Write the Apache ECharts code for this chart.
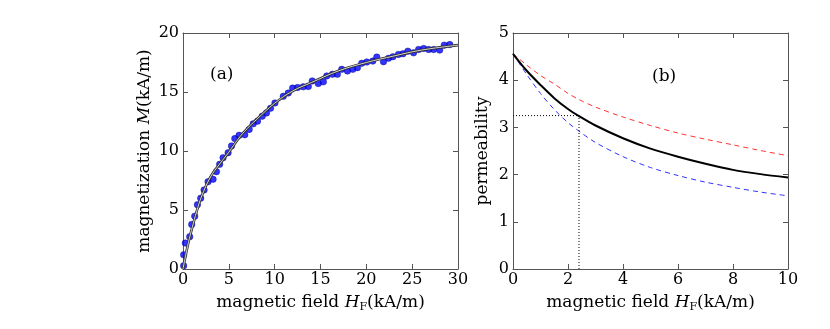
<!DOCTYPE html>
<html>
<head>
<meta charset="utf-8">
<script src="https://cdn.jsdelivr.net/npm/echarts@6/dist/echarts.min.js"></script>
<style>
  html, body { margin: 0; padding: 0; background: #fff; }
  #chart { width: 830px; height: 329px; }
</style>
</head>
<body>
<div id="chart"></div>
<script>
// panel (a): measured magnetization
var fieldA = [0.07, 0.07, 0.25, 0.73, 0.95, 1.28, 1.57, 1.93, 2.3, 2.73, 3.28, 3.65, 4.0, 4.37, 4.92,
  5.29, 5.65, 6.12, 6.74, 7.22, 7.66, 8.13, 8.64, 9.11, 9.55, 10.03, 10.94, 11.48, 11.96, 12.5,
  13.12, 13.67, 14.1, 14.76, 15.31, 15.68, 16.3, 16.84, 17.32, 17.94, 18.52, 19.03, 19.5, 20.05,
  20.7, 21.14, 21.87, 22.42, 22.9, 23.5, 24.0, 24.53, 25.15, 25.7, 26.25, 26.8, 27.34, 28.0, 28.5, 29.1];
var magA = [0.28, 1.2, 2.2, 2.74, 3.78, 4.48, 5.45, 6.0, 6.7, 7.4, 7.6, 8.25, 8.87, 9.43, 9.85,
  10.43, 11.05, 11.33, 11.38, 11.83, 12.3, 12.53, 12.95, 13.23, 13.62, 14.07, 14.63, 14.91, 15.33, 15.38,
  15.44, 15.47, 15.94, 15.72, 15.86, 16.36, 16.5, 16.5, 16.92, 16.78, 16.92, 17.06, 17.43, 17.54,
  17.62, 17.96, 17.57, 17.85, 17.99, 18.18, 18.24, 18.46, 18.32, 18.6, 18.69, 18.6, 18.6, 18.55, 18.97, 19.02];
// fitted curve
var fitH = [0, 0.3, 0.7, 1, 1.5, 2, 3, 4, 5, 6, 7, 8, 10, 12, 14, 17, 20, 23, 26, 30];
var fitM = [0, 1.2, 2.6, 3.5, 4.9, 6.1, 7.8, 8.9, 9.9, 11.0, 11.9, 12.65, 14.05, 15.1, 15.8, 16.8, 17.5, 18.05, 18.55, 18.97];

// panel (b): permeability curves
var fieldB = [0, 0.5, 1, 1.5, 2, 2.4, 3, 4, 5, 6, 7, 8, 9, 10];
var muMid = [4.56, 4.2, 3.9, 3.62, 3.39, 3.24, 3.04, 2.77, 2.55, 2.38, 2.23, 2.1, 2.01, 1.94];
var muHigh = [4.56, 4.32, 4.1, 3.92, 3.72, 3.59, 3.43, 3.22, 3.04, 2.88, 2.75, 2.63, 2.51, 2.4];
var muLow = [4.56, 4.12, 3.72, 3.38, 3.1, 2.92, 2.68, 2.38, 2.15, 1.98, 1.84, 1.73, 1.63, 1.55];
var crossH = 2.4;
var crossMu = 3.25;

var FONT = 'DejaVu Serif';
var frame = '#555';

function zip(xs, ys) {
  return xs.map(function (x, i) { return [x, ys[i]]; });
}

var nameRich = {
  i: { fontFamily: FONT, fontStyle: 'italic', fontSize: 17, color: '#000', lineHeight: 20 },
  sub: { fontFamily: FONT, fontSize: 11, color: '#000', verticalAlign: 'bottom', lineHeight: 13 }
};

function axisX(grid, max, interval, show) {
  return {
    type: 'value', gridIndex: grid, min: 0, max: max, interval: interval,
    position: show ? 'bottom' : 'top',
    axisLine: { show: true, onZero: false, lineStyle: { color: frame, width: 1 } },
    axisTick: { show: true, inside: true, length: 5, lineStyle: { color: frame } },
    axisLabel: { show: show, color: '#000', fontFamily: FONT, fontSize: 16, margin: 3 },
    splitLine: { show: false },
    name: show ? 'magnetic field {i|H}{sub|F}(kA/m)' : '',
    nameLocation: 'middle', nameGap: 22,
    nameTextStyle: { fontFamily: FONT, fontSize: 17, color: '#000', lineHeight: 20, rich: nameRich }
  };
}

function axisY(grid, max, interval, show, name, gap) {
  return {
    type: 'value', gridIndex: grid, min: 0, max: max, interval: interval,
    position: show ? 'left' : 'right',
    axisLine: { show: true, onZero: false, lineStyle: { color: frame, width: 1 } },
    axisTick: { show: true, inside: true, length: 5, lineStyle: { color: frame } },
    axisLabel: { show: show, color: '#000', fontFamily: FONT, fontSize: 16, margin: 4 },
    splitLine: { show: false },
    name: show ? name : '',
    nameLocation: 'middle', nameGap: gap, nameRotate: 90,
    nameTextStyle: { fontFamily: FONT, fontSize: 17, color: '#000', lineHeight: 20, rich: nameRich }
  };
}

var chart = echarts.init(document.getElementById('chart'), null, { renderer: 'canvas' });
chart.setOption({
  animation: false,
  backgroundColor: '#fff',
  grid: [
    { left: 183, right: 372, top: 33, bottom: 60 },
    { left: 513, right: 42, top: 33, bottom: 60 }
  ],
  xAxis: [
    axisX(0, 30, 5, true), axisX(0, 30, 5, false),
    axisX(1, 10, 2, true), axisX(1, 10, 2, false)
  ],
  yAxis: [
    axisY(0, 20, 5, true, 'magnetization {i|M}(kA/m)', 24), axisY(0, 20, 5, false),
    axisY(1, 5, 1, true, 'permeability', 20), axisY(1, 5, 1, false)
  ],
  graphic: [
    { type: 'text', left: 210, top: 66, style: { text: '(a)', font: '17px "DejaVu Serif"', fill: '#000' } },
    { type: 'text', left: 652, top: 68, style: { text: '(b)', font: '17px "DejaVu Serif"', fill: '#000' } }
  ],
  series: [
    {
      type: 'scatter', xAxisIndex: 0, yAxisIndex: 0, symbol: 'circle', symbolSize: 6.5,
      itemStyle: { color: '#0000ff', borderColor: '#000080', borderWidth: 0.5 },
      data: zip(fieldA, magA), z: 2
    },
    {
      type: 'line', xAxisIndex: 0, yAxisIndex: 0, smooth: 0.4, showSymbol: false,
      lineStyle: { color: '#333', width: 2.6 }, data: zip(fitH, fitM), z: 3
    },
    {
      type: 'line', xAxisIndex: 0, yAxisIndex: 0, smooth: 0.4, showSymbol: false,
      lineStyle: { color: '#e8e8e8', width: 0.9 }, data: zip(fitH, fitM), z: 4
    },
    {
      type: 'line', xAxisIndex: 2, yAxisIndex: 2, smooth: 0.3, showSymbol: false,
      lineStyle: { color: '#ff3333', width: 1, type: [5, 4] }, data: zip(fieldB, muHigh)
    },
    {
      type: 'line', xAxisIndex: 2, yAxisIndex: 2, smooth: 0.3, showSymbol: false,
      lineStyle: { color: '#3333ff', width: 1, type: [5, 4] }, data: zip(fieldB, muLow)
    },
    {
      type: 'line', xAxisIndex: 2, yAxisIndex: 2, smooth: 0.3, showSymbol: false,
      lineStyle: { color: '#000', width: 2 }, data: zip(fieldB, muMid)
    },
    {
      type: 'line', xAxisIndex: 2, yAxisIndex: 2, showSymbol: false,
      lineStyle: { color: '#000', width: 1, type: [1, 2] },
      data: [[0, crossMu], [crossH, crossMu]]
    },
    {
      type: 'line', xAxisIndex: 2, yAxisIndex: 2, showSymbol: false,
      lineStyle: { color: '#000', width: 1, type: [1, 2] },
      data: [[crossH, 0], [crossH, crossMu]]
    }
  ]
});
</script>
</body>
</html>
